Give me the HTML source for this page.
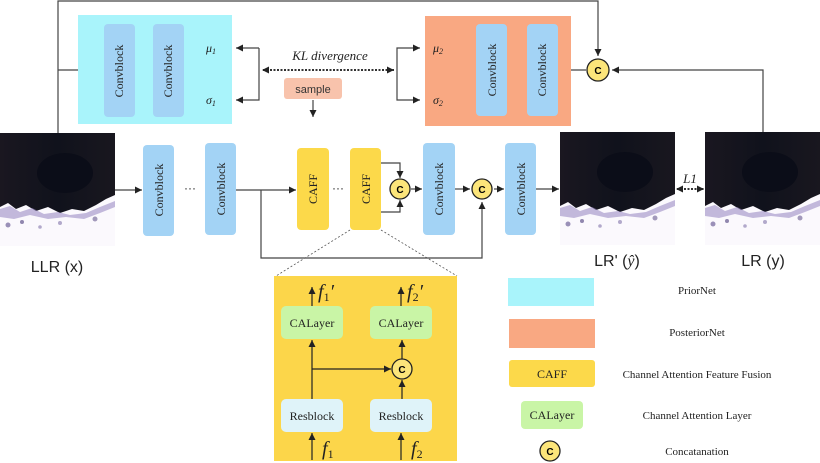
<!DOCTYPE html>
<html><head><meta charset="utf-8"><style>
html,body{margin:0;padding:0;background:#fff;width:820px;height:463px;overflow:hidden}
svg{display:block}
.serif{font-family:"Liberation Serif",serif}
.sans{font-family:"Liberation Sans",sans-serif}
</style></head><body>
<svg width="820" height="463" viewBox="0 0 820 463" xmlns="http://www.w3.org/2000/svg">
<defs>
<marker id="ah" markerWidth="8" markerHeight="8" refX="7" refY="4" orient="auto" markerUnits="userSpaceOnUse"><path d="M0,0.5 L7,4 L0,7.5 z" fill="#222"/></marker>
<marker id="ahs" markerWidth="8" markerHeight="8" refX="1" refY="4" orient="auto" markerUnits="userSpaceOnUse"><path d="M7,0.5 L0,4 L7,7.5 z" fill="#222"/></marker>
<linearGradient id="dark" x1="0" y1="0" x2="1" y2="0"><stop offset="0" stop-color="#1a1720"/><stop offset="0.5" stop-color="#10121c"/><stop offset="1" stop-color="#19171f"/></linearGradient>
<g id="photo">
<rect x="0" y="0" width="115" height="113" fill="url(#dark)"/>
<ellipse cx="65" cy="40" rx="28" ry="20" fill="#0b0d18"/>
<path d="M0,74 L8,70 L16,76 L26,72 L36,78 L48,74 L60,80 L72,76 L84,78 L96,72 L106,66 L115,62 L115,113 L0,113 z" fill="#fbf9fd"/>
<path d="M0,76 L10,73 L20,79 L32,75 L44,81 L58,79 L70,82 L86,80 L100,74 L115,68 L115,74 L100,80 L84,86 L66,84 L48,86 L30,82 L14,86 L0,84 z" fill="#9c8cc4" opacity="0.6"/>
<circle cx="8" cy="92" r="2.5" fill="#5a4a8a" opacity="0.6"/><circle cx="22" cy="89" r="2" fill="#4a3a7a" opacity="0.6"/><circle cx="40" cy="94" r="1.8" fill="#6a5a9a" opacity="0.5"/><circle cx="60" cy="90" r="2" fill="#6a5a9a" opacity="0.5"/><circle cx="95" cy="86" r="2.5" fill="#4a3a7a" opacity="0.5"/>
</g>
</defs>

<g fill="none" stroke="#444" stroke-width="1.2">
<path d="M58,133 V1 H598 V56" marker-end="url(#ah)"/>
<path d="M58,70 H103" marker-end="url(#ah)"/>
<path d="M185,48 H200" marker-end="url(#ah)"/>
<path d="M185,100 H200" marker-end="url(#ah)"/>
<path d="M259,48 H236" marker-end="url(#ah)"/>
<path d="M259,48 V100 H236" marker-end="url(#ah)"/>
<path d="M397,70 V48 H420" marker-end="url(#ah)"/>
<path d="M397,70 V100 H420" marker-end="url(#ah)"/>
<path d="M476,48 H450" marker-end="url(#ah)"/>
<path d="M476,100 H450" marker-end="url(#ah)"/>
<path d="M586,70 H559" marker-end="url(#ah)"/>
<path d="M763,132 V70 H612" marker-end="url(#ah)"/>
<path d="M313,100 V117" marker-end="url(#ah)"/>
<path d="M115,190 H142" marker-end="url(#ah)"/>
<path d="M236,190 H296" marker-end="url(#ah)"/>
<path d="M261,190 V258 H482 V202" marker-end="url(#ah)"/>
<path d="M381,163 H400 V178" marker-end="url(#ah)"/>
<path d="M381,212 H400 V200" marker-end="url(#ah)"/>
<path d="M411,189 H422" marker-end="url(#ah)"/>
<path d="M455,189 H470" marker-end="url(#ah)"/>
<path d="M494,189 H504" marker-end="url(#ah)"/>
<path d="M536,189 H559" marker-end="url(#ah)"/>
</g>
<path d="M263,70 H394" stroke="#333" stroke-width="2" stroke-dasharray="2,1.5" fill="none" marker-start="url(#ahs)" marker-end="url(#ah)"/>
<path d="M677,189 H704" stroke="#333" stroke-width="2" stroke-dasharray="2,1.5" fill="none" marker-start="url(#ahs)" marker-end="url(#ah)"/>

<g>
<rect x="78" y="15" width="154" height="109" fill="#a9f4fb"/>
<rect x="104" y="24" width="31" height="93" rx="4" fill="#a3d3f5"/>
<rect x="153" y="24" width="31" height="93" rx="4" fill="#a3d3f5"/>
<text class="serif" font-size="12" transform="translate(123,71) rotate(-90)" text-anchor="middle" fill="#222">Convblock</text>
<text class="serif" font-size="12" transform="translate(172,71) rotate(-90)" text-anchor="middle" fill="#222">Convblock</text>
<text class="serif" font-size="12" font-style="italic" x="206" y="52" fill="#222">μ<tspan font-size="8" dy="2">1</tspan></text>
<text class="serif" font-size="12" font-style="italic" x="206" y="104" fill="#222">σ<tspan font-size="8" dy="2">1</tspan></text>
</g>
<text class="serif" font-size="13" font-style="italic" x="330" y="60" text-anchor="middle" fill="#222">KL divergence</text>
<g>
<rect x="284" y="78" width="58" height="21" rx="3" fill="#f8c3ac"/>
<text class="sans" font-size="11" x="313" y="93" text-anchor="middle" fill="#333">sample</text>
</g>

<g>
<rect x="425" y="16" width="146" height="110" fill="#f9a882"/>
<rect x="476" y="24" width="31" height="92" rx="4" fill="#a3d3f5"/>
<rect x="527" y="24" width="31" height="92" rx="4" fill="#a3d3f5"/>
<text class="serif" font-size="12" transform="translate(496,70) rotate(-90)" text-anchor="middle" fill="#222">Convblock</text>
<text class="serif" font-size="12" transform="translate(546,70) rotate(-90)" text-anchor="middle" fill="#222">Convblock</text>
<text class="serif" font-size="12" font-style="italic" x="433" y="52" fill="#222">μ<tspan font-size="8" dy="2">2</tspan></text>
<text class="serif" font-size="12" font-style="italic" x="433" y="104" fill="#222">σ<tspan font-size="8" dy="2">2</tspan></text>
</g>

<g><circle cx="598" cy="70" r="11" fill="#fce57a" stroke="#222" stroke-width="1.3"/><text class="sans" font-size="10" font-weight="bold" x="598" y="74" text-anchor="middle">C</text></g>
<g><circle cx="400" cy="189" r="10" fill="#fce57a" stroke="#222" stroke-width="1.3"/><text class="sans" font-size="10" font-weight="bold" x="400" y="193" text-anchor="middle">C</text></g>
<g><circle cx="482" cy="189" r="10" fill="#fce57a" stroke="#222" stroke-width="1.3"/><text class="sans" font-size="10" font-weight="bold" x="482" y="193" text-anchor="middle">C</text></g>

<use href="#photo" x="0" y="133"/>
<use href="#photo" x="560" y="132"/>
<use href="#photo" x="705" y="132"/>
<text class="sans" font-size="16" x="57" y="272" text-anchor="middle" fill="#222">LLR (x)</text>
<text class="sans" font-size="16" x="617" y="266" text-anchor="middle" fill="#222">LR' (<tspan font-family="Liberation Serif" font-style="italic">ŷ</tspan>)</text>
<text class="sans" font-size="16" x="763" y="266" text-anchor="middle" fill="#222">LR (y)</text>
<text class="serif" font-size="13" font-style="italic" x="690" y="183" text-anchor="middle" fill="#222">L1</text>

<g>
<rect x="143" y="145" width="31" height="91" rx="4" fill="#a3d3f5"/>
<rect x="205" y="143" width="31" height="92" rx="4" fill="#a3d3f5"/>
<rect x="423" y="143" width="32" height="92" rx="4" fill="#a3d3f5"/>
<rect x="505" y="143" width="31" height="92" rx="4" fill="#a3d3f5"/>
<text class="serif" font-size="12" transform="translate(163,190) rotate(-90)" text-anchor="middle" fill="#222">Convblock</text>
<text class="serif" font-size="12" transform="translate(225,189) rotate(-90)" text-anchor="middle" fill="#222">Convblock</text>
<text class="serif" font-size="12" transform="translate(443,189) rotate(-90)" text-anchor="middle" fill="#222">Convblock</text>
<text class="serif" font-size="12" transform="translate(525,189) rotate(-90)" text-anchor="middle" fill="#222">Convblock</text>
</g>
<text class="sans" font-size="12" x="190" y="192" text-anchor="middle" fill="#222">···</text>
<text class="sans" font-size="12" x="338" y="192" text-anchor="middle" fill="#222">···</text>
<g>
<rect x="297" y="148" width="32" height="82" rx="4" fill="#fcd94a"/>
<rect x="350" y="148" width="31" height="82" rx="4" fill="#fcd94a"/>
<text class="serif" font-size="12" transform="translate(317,189) rotate(-90)" text-anchor="middle" fill="#222">CAFF</text>
<text class="serif" font-size="12" transform="translate(370,189) rotate(-90)" text-anchor="middle" fill="#222">CAFF</text>
</g>

<path d="M350,230 L276,276 M381,230 L457,276" stroke="#555" stroke-width="0.8" stroke-dasharray="2,2" fill="none"/>
<g>
<rect x="274" y="276" width="183" height="185" fill="#fcd64a"/>
<rect x="281" y="306" width="62" height="33" rx="5" fill="#c9f5a6"/>
<rect x="370" y="306" width="62" height="33" rx="5" fill="#c9f5a6"/>
<rect x="281" y="399" width="62" height="33" rx="5" fill="#dff3f9"/>
<rect x="370" y="399" width="62" height="33" rx="5" fill="#dff3f9"/>
<text class="serif" font-size="12" x="312" y="327" text-anchor="middle" fill="#222">CALayer</text>
<text class="serif" font-size="12" x="401" y="327" text-anchor="middle" fill="#222">CALayer</text>
<text class="serif" font-size="12" x="312" y="420" text-anchor="middle" fill="#222">Resblock</text>
<text class="serif" font-size="12" x="401" y="420" text-anchor="middle" fill="#222">Resblock</text>
<g fill="none" stroke="#222" stroke-width="1.2">
<path d="M312,306 V287" marker-end="url(#ah)"/>
<path d="M401,306 V287" marker-end="url(#ah)"/>
<path d="M312,399 V340" marker-end="url(#ah)"/>
<path d="M312,369 H391" marker-end="url(#ah)"/>
<path d="M402,399 V380" marker-end="url(#ah)"/>
<path d="M402,359 V340" marker-end="url(#ah)"/>
<path d="M312,460 V433" marker-end="url(#ah)"/>
<path d="M401,460 V433" marker-end="url(#ah)"/>
</g>
<circle cx="402" cy="369" r="10" fill="#fce57a" stroke="#222" stroke-width="1.3"/><text class="sans" font-size="10" font-weight="bold" x="402" y="373" text-anchor="middle">C</text>
<text class="serif" font-size="20" font-style="italic" x="318" y="298" fill="#222">f<tspan font-size="12" font-style="normal" dy="3">1</tspan><tspan dy="-3">′</tspan></text>
<text class="serif" font-size="20" font-style="italic" x="407" y="298" fill="#222">f<tspan font-size="12" font-style="normal" dy="3">2</tspan><tspan dy="-3">′</tspan></text>
<text class="serif" font-size="20" font-style="italic" x="322" y="455" fill="#222">f<tspan font-size="12" font-style="normal" dy="3">1</tspan></text>
<text class="serif" font-size="20" font-style="italic" x="411" y="455" fill="#222">f<tspan font-size="12" font-style="normal" dy="3">2</tspan></text>
</g>

<g>
<rect x="508" y="278" width="86" height="28" fill="#a9f4fb"/>
<rect x="509" y="319" width="86" height="29" fill="#f9a882"/>
<rect x="509" y="360" width="86" height="27" rx="3" fill="#fcd94a"/>
<text class="serif" font-size="12" x="552" y="378" text-anchor="middle" fill="#222">CAFF</text>
<rect x="521" y="401" width="62" height="28" rx="4" fill="#c9f5a6"/>
<text class="serif" font-size="12" x="552" y="419" text-anchor="middle" fill="#222">CALayer</text>
<circle cx="550" cy="451" r="10" fill="#fce57a" stroke="#222" stroke-width="1.3"/><text class="sans" font-size="10" font-weight="bold" x="550" y="455" text-anchor="middle">C</text>
<text class="serif" font-size="11" x="697" y="294" text-anchor="middle" fill="#222">PriorNet</text>
<text class="serif" font-size="11" x="697" y="336" text-anchor="middle" fill="#222">PosteriorNet</text>
<text class="serif" font-size="11" x="697" y="378" text-anchor="middle" fill="#222">Channel Attention Feature Fusion</text>
<text class="serif" font-size="11" x="697" y="419" text-anchor="middle" fill="#222">Channel Attention Layer</text>
<text class="serif" font-size="11" x="697" y="455" text-anchor="middle" fill="#222">Concatanation</text>
</g>
</svg>
</body></html>
